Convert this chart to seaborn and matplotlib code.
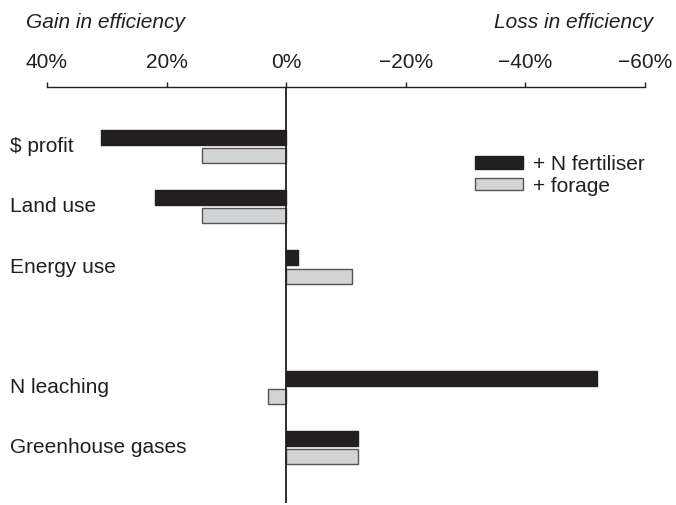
import matplotlib
matplotlib.use("Agg")
import matplotlib.pyplot as plt
import matplotlib.transforms as mtransforms
import seaborn as sns
import pandas as pd

categories = ["$ profit", "Land use", "Energy use", " ", "N leaching", "Greenhouse gases"]
measured = ["$ profit", "Land use", "Energy use", "N leaching", "Greenhouse gases"]
# positive = gain in efficiency (plotted to the left), negative = loss
n_fertiliser = [31, 22, -2, -52, -12]
forage = [14, 14, -11, 3, -12]
series = ["+ N fertiliser", "+ forage"]
ticks = [40, 20, 0, -20, -40, -60]
tick_labels = ["40%", "20%", "0%", "\u221220%", "\u221240%", "\u221260%"]

sns.set_theme(style="white")
plt.rcParams["font.family"] = ["Liberation Sans", "DejaVu Sans"]
FS = 15
INK = "#231f20"

df = pd.DataFrame({
    "cat": measured * 2,
    "value": n_fertiliser + forage,
    "series": [series[0]] * len(measured) + [series[1]] * len(measured),
})

fig = plt.figure(figsize=(6.76, 5.05), dpi=100)
ax = fig.add_axes([47 / 676, 1 - 503 / 505, (645 - 47) / 676, (503 - 87) / 505])

sns.barplot(data=df, y="cat", x="value", hue="series", order=categories,
            hue_order=series, palette=[INK, "#d1d3d4"], orient="h",
            width=0.6, gap=0.17, ax=ax, legend=True, saturation=1)

for patch, ec in zip(ax.patches[:len(measured) * 2],
                     [INK] * len(measured) + ["#555555"] * len(measured)):
    patch.set_edgecolor(ec)
    patch.set_linewidth(1.0)

ax.set_xlim(40, -60)
ax.set_ylim(5.92, -0.99)
ax.xaxis.tick_top()
ax.set_xticks(ticks)
ax.set_xticklabels(tick_labels, fontsize=FS, color=INK)
ax.tick_params(axis="x", direction="out", length=3.6, width=1, pad=7, color=INK, top=True, bottom=False)
ax.set_yticks([])
ax.set_xlabel("")
ax.set_ylabel("")
for s in ["left", "right", "bottom"]:
    ax.spines[s].set_visible(False)
ax.spines["top"].set_linewidth(1.0)
ax.spines["top"].set_color(INK)
ax.axvline(0, color=INK, lw=1.3, zorder=5)

trans = mtransforms.blended_transform_factory(fig.transFigure, ax.transData)
for i, c in enumerate(categories):
    if c.strip():
        ax.text(10 / 676, i, c, transform=trans, ha="left", va="center", fontsize=FS, color=INK)

fig.text(26 / 676, 1 - 22 / 505, "Gain in efficiency", style="italic", fontsize=FS, ha="left", va="center", color=INK)
fig.text(653 / 676, 1 - 22 / 505, "Loss in efficiency", style="italic", fontsize=FS, ha="right", va="center", color=INK)

leg = ax.legend(loc="upper left", bbox_to_anchor=(475 / 676, 1 - 155 / 505), bbox_transform=fig.transFigure,
                frameon=False, fontsize=FS, handlelength=2.3, handleheight=0.55, labelspacing=0.12,
                handletextpad=0.5, borderpad=0, borderaxespad=0)
for h, ec in zip(leg.legend_handles, [INK, "#555555"]):
    h.set_edgecolor(ec)
    h.set_linewidth(1.0)
for t in leg.get_texts():
    t.set_color(INK)

fig.savefig("out.png", dpi=100)
